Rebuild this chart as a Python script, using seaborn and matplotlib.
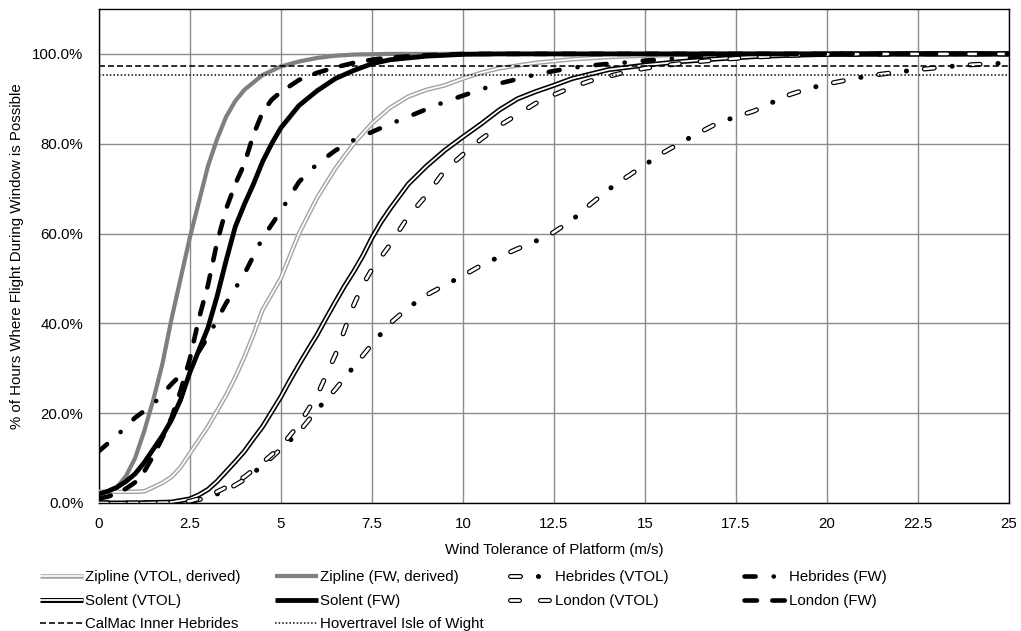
import numpy as np
import pandas as pd
import matplotlib
matplotlib.use("Agg")
import matplotlib.pyplot as plt
import seaborn as sns
from matplotlib.lines import Line2D
from matplotlib.legend_handler import HandlerTuple
from matplotlib.ticker import FuncFormatter

sns.set_theme(style="white")
plt.rcParams['font.family'] = ['Liberation Sans', 'DejaVu Sans']
plt.rcParams['lines.scale_dashes'] = False

# ---------------- data (wind tolerance m/s, % of hours) ----------------
zip_fw_x = [0, 0.5, 0.75, 1, 1.25, 1.5, 1.75, 2, 2.25, 2.5, 2.75, 3, 3.25, 3.5, 3.75, 4, 4.5, 5, 5.5, 6, 6.5, 7, 8, 25]
zip_fw_y = [1.8, 3.5, 6, 10, 16, 23, 31, 41, 50, 59, 67, 75, 81, 86, 89.5, 92, 95.3, 97.2, 98.3, 99.1, 99.6, 99.85, 100, 100]

zip_vtol_x = [0, 0.5, 1, 1.25, 1.5, 1.75, 2, 2.25, 2.5, 2.75, 3, 3.25, 3.5, 3.75, 4, 4.25, 4.5, 4.75, 5, 5.25, 5.5,
              5.75, 6, 6.5, 7, 7.5, 8, 8.5, 9, 9.5, 10, 10.5, 11, 12, 13, 14, 15, 17, 25]
zip_vtol_y = [2.5, 2.5, 2.5, 2.6, 3.5, 4.5, 5.8, 8, 11, 14, 17, 20.5, 24, 28, 32.5, 37.5, 43, 46.5, 50, 55, 60,
              64, 68, 74.5, 80, 84.5, 88, 90.5, 92, 93, 94.5, 95.8, 96.8, 98, 98.8, 99.3, 99.6, 100, 100]

sol_fw_x = [0, 0.25, 0.5, 0.75, 1, 1.25, 1.5, 1.75, 2, 2.25, 2.5, 2.75, 3, 3.25, 3.5, 3.75, 4, 4.25, 4.5, 4.75, 5,
            5.5, 6, 6.5, 7, 7.5, 8, 9, 10, 11, 25]
sol_fw_y = [2, 2.6, 3.5, 4.8, 6.5, 9, 12, 15, 18.5, 23, 29, 34, 39, 46, 54, 61.5, 66.5, 71, 76, 80, 83.5,
            88.5, 91.8, 94.5, 96.3, 97.8, 98.7, 99.5, 99.9, 100, 100]

heb_fw_x = [0, 0.5, 1, 1.5, 2, 2.5, 3, 3.5, 4, 4.5, 5, 5.5, 6, 6.5, 7, 7.5, 8, 8.5, 9, 9.5, 10, 10.5, 11, 11.5,
            12, 12.5, 13, 13.5, 14, 14.5, 15, 16, 17, 18, 20, 25]
heb_fw_y = [11.5, 15, 19, 22, 26.5, 30.5, 37, 44.5, 51, 59, 65, 71.5, 75.5, 78.5, 80.8, 82.6, 84.4, 86, 87.7, 89.3,
            90.7, 92.1, 93.4, 94.4, 95.4, 96.2, 96.9, 97.4, 97.8, 98.1, 98.5, 99.1, 99.5, 99.8, 100, 100]

lon_fw_x = [0, 0.25, 0.5, 0.75, 1, 1.25, 1.5, 1.75, 2, 2.25, 2.5, 2.75, 3, 3.25, 3.5, 3.75, 4, 4.25, 4.5, 4.75, 5,
            5.5, 6, 6.5, 7, 7.5, 8, 9, 10, 25]
lon_fw_y = [1, 1.4, 2.2, 3.2, 4.6, 7, 10.5, 14.5, 19, 25, 32, 41, 48.5, 58, 65.5, 71, 75.5, 82, 87, 89.8, 91.5,
            94.2, 95.8, 97, 98, 98.7, 99.2, 99.7, 100, 100]

sol_vtol_x = [0, 1, 2, 2.5, 2.75, 3, 3.25, 3.5, 3.75, 4, 4.25, 4.5, 4.75, 5, 5.25, 5.5, 5.75, 6, 6.25, 6.5, 6.75,
              7, 7.25, 7.5, 7.75, 8, 8.5, 9, 9.5, 10, 10.5, 11, 11.5, 12, 12.5, 13, 14, 15, 16, 17, 18, 19, 20, 22, 25]
sol_vtol_y = [0, 0, 0.2, 0.9, 1.8, 3, 4.8, 7, 9.2, 11.5, 14.3, 17, 20.3, 23.6, 27.3, 30.8, 34.2, 37.5, 41.2, 44.8,
              48.3, 51.5, 55, 59, 62.5, 65.5, 71, 75, 78.5, 81.5, 84.4, 87.5, 90, 91.6, 93, 94.5, 96.5, 97.5, 98.3,
              98.9, 99.4, 99.7, 99.9, 100, 100]

lon_vtol_x = [0, 1, 2, 2.5, 3, 3.5, 4, 4.5, 5, 5.5, 6, 6.5, 7, 7.25, 7.5, 8, 8.5, 9, 9.5, 10, 10.5, 11, 11.5, 12,
              12.5, 13, 13.5, 14, 14.5, 15, 16, 17, 18, 19, 20, 22, 25]
lon_vtol_y = [0, 0, 0.1, 0.4, 1.5, 3.5, 5.8, 9, 12.5, 17.5, 24, 33, 44, 48.5, 52, 57.5, 63.8, 68.5, 74, 77.6, 81,
              84, 86.5, 89, 90.9, 92.6, 94, 95, 96, 96.8, 97.9, 98.7, 99.3, 99.7, 99.9, 100, 100]

heb_vtol_x = [0, 1, 2, 2.5, 3, 3.5, 4, 4.5, 5, 5.5, 6, 6.5, 7, 7.5, 8, 8.5, 9, 9.5, 10, 10.5, 11, 11.5, 12, 12.5,
              13, 13.5, 14, 14.5, 15, 15.5, 16, 16.5, 17, 17.5, 18, 18.5, 19, 19.5, 20, 20.5, 21, 21.5, 22, 22.5,
              23, 23.5, 24, 24.5, 25]
heb_vtol_y = [0, 0, 0.1, 0.3, 1.2, 2.8, 5.2, 8.3, 12, 15.8, 20.8, 25.3, 30.3, 35.3, 40, 43.5, 46.3, 48.5, 50.6,
              52.9, 54.8, 56.6, 58.3, 60.3, 63, 66.5, 69.8, 72.6, 75.3, 78, 80.3, 82.5, 84.6, 86, 87.3, 89.2, 91,
              92.3, 93.3, 94.1, 94.9, 95.5, 96, 96.5, 96.9, 97.3, 97.6, 97.8, 98]

calmac_level = 97.2
hovertravel_level = 95.3
x_range = [0, 25]

x_ticks = [0, 2.5, 5, 7.5, 10, 12.5, 15, 17.5, 20, 22.5, 25]
y_ticks = [0, 20, 40, 60, 80, 100]

labels = ["Zipline (VTOL, derived)", "Zipline (FW, derived)", "Hebrides (VTOL)", "Hebrides (FW)",
          "Solent (VTOL)", "Solent (FW)", "London (VTOL)", "London (FW)",
          "CalMac Inner Hebrides", "Hovertravel Isle of Wight"]

# ---------------- styles ----------------
PX = 0.72  # points per pixel at 100 dpi
GRAY_L = "#a3a3a3"
GRAY_D = "#7f7f7f"

heb_dash_out = (0, (7.2, 12.9, 0.1, 12.9))
heb_dash_in = (0, (7.2, 25.9))
lon_dash = (0, (6.5, 15.0))
heb_fw_dash = (0, (8.0, 13.0, 0.1, 13.0))
lon_fw_dash = (0, (9.0, 11.0))
calmac_dash = (0, (4.3, 2.2))
hover_dot = (0, (1.1, 1.5))

styles = {
    "zip_vtol_out": dict(color=GRAY_L, lw=4.5 * PX, solid_capstyle="butt"),
    "zip_vtol_in": dict(color="white", lw=1.7 * PX, solid_capstyle="butt"),
    "zip_fw": dict(color=GRAY_D, lw=4.2 * PX, solid_capstyle="butt"),
    "heb_vtol_out": dict(color="black", lw=5.0 * PX, linestyle=heb_dash_out, dash_capstyle="round"),
    "heb_vtol_in": dict(color="white", lw=2.6 * PX, linestyle=heb_dash_in, dash_capstyle="round"),
    "heb_fw": dict(color="black", lw=4.6 * PX, linestyle=heb_fw_dash, dash_capstyle="round"),
    "sol_vtol_out": dict(color="black", lw=5.0 * PX, solid_capstyle="butt"),
    "sol_vtol_in": dict(color="white", lw=1.8 * PX, solid_capstyle="butt"),
    "sol_fw": dict(color="black", lw=4.8 * PX, solid_capstyle="butt"),
    "lon_vtol_out": dict(color="black", lw=5.0 * PX, linestyle=lon_dash, dash_capstyle="round"),
    "lon_vtol_in": dict(color="white", lw=2.6 * PX, linestyle=lon_dash, dash_capstyle="round"),
    "lon_fw": dict(color="black", lw=4.6 * PX, linestyle=lon_fw_dash, dash_capstyle="round"),
    "calmac": dict(color="black", lw=1.6 * PX, linestyle=calmac_dash, dash_capstyle="butt"),
    "hover": dict(color="black", lw=1.5 * PX, linestyle=hover_dot, dash_capstyle="butt"),
}

W, H = 1021, 631
fig = plt.figure(figsize=(W / 100, H / 100), dpi=100)
ax = fig.add_axes([98.7 / W, 1 - 503 / H, (1009 - 98.7) / W, (503 - 9) / H])

z = [2]


def draw(x, y, key):
    z[0] += 1
    sns.lineplot(x=x, y=y, ax=ax, estimator=None, sort=False, zorder=z[0], **styles[key])


draw(zip_vtol_x, zip_vtol_y, "zip_vtol_out")
draw(zip_vtol_x, zip_vtol_y, "zip_vtol_in")
draw(zip_fw_x, zip_fw_y, "zip_fw")
draw(heb_vtol_x, heb_vtol_y, "heb_vtol_out")
draw(heb_vtol_x, heb_vtol_y, "heb_vtol_in")
draw(heb_fw_x, heb_fw_y, "heb_fw")
draw(sol_vtol_x, sol_vtol_y, "sol_vtol_out")
draw(sol_vtol_x, sol_vtol_y, "sol_vtol_in")
draw(sol_fw_x, sol_fw_y, "sol_fw")
draw(lon_vtol_x, lon_vtol_y, "lon_vtol_out")
draw(lon_vtol_x, lon_vtol_y, "lon_vtol_in")
draw(lon_fw_x, lon_fw_y, "lon_fw")
draw(x_range, [calmac_level, calmac_level], "calmac")
draw(x_range, [hovertravel_level, hovertravel_level], "hover")

ax.set_xlim(0, 25)
ax.set_ylim(0, 110)
ax.set_xticks(x_ticks)
ax.set_yticks(y_ticks)
ax.xaxis.set_major_formatter(FuncFormatter(lambda v, p: f"{v:g}"))
ax.yaxis.set_major_formatter(FuncFormatter(lambda v, p: f"{v:.1f}%"))
ax.grid(True, color="#8c8c8c", lw=1.0)
ax.set_axisbelow(True)
for s in ax.spines.values():
    s.set_visible(True)
    s.set_color("black")
    s.set_linewidth(1.0)
ax.spines["bottom"].set_zorder(30)
ax.tick_params(axis="both", length=0, labelsize=10.8, colors="black")
ax.tick_params(axis="x", pad=10)
ax.tick_params(axis="y", pad=11)
ax.set_xlabel("Wind Tolerance of Platform (m/s)", fontsize=10.8, color="black", labelpad=9)
ax.set_ylabel("% of Hours Where Flight During Window is Possible", fontsize=10.8, color="black", labelpad=6)


# ---------------- legend ----------------
def mk(key):
    st = dict(styles[key])
    return Line2D([], [], **st)


handles = [
    (mk("zip_vtol_out"), mk("zip_vtol_in")),
    mk("zip_fw"),
    (mk("heb_vtol_out"), mk("heb_vtol_in")),
    mk("heb_fw"),
    (mk("sol_vtol_out"), mk("sol_vtol_in")),
    mk("sol_fw"),
    (mk("lon_vtol_out"), mk("lon_vtol_in")),
    mk("lon_fw"),
    mk("calmac"),
    mk("hover"),
]

col_x = [40, 275, 510, 744]
cols = [[0, 4, 8], [1, 5, 9], [2, 6], [3, 7]]
for cx, idx in zip(col_x, cols):
    leg = fig.legend([handles[i] for i in idx], [labels[i] for i in idx],
                     loc="upper left", bbox_to_anchor=(cx / W, 1 - 570.5 / H),
                     frameon=False, fontsize=10.8, borderpad=0, borderaxespad=0,
                     handlelength=2.85, handletextpad=0.15, labelspacing=0.62,
                     handler_map={tuple: HandlerTuple(ndivide=1, pad=0)})
    for t in leg.get_texts():
        t.set_color("black")

fig.savefig("out.png", dpi=100)
